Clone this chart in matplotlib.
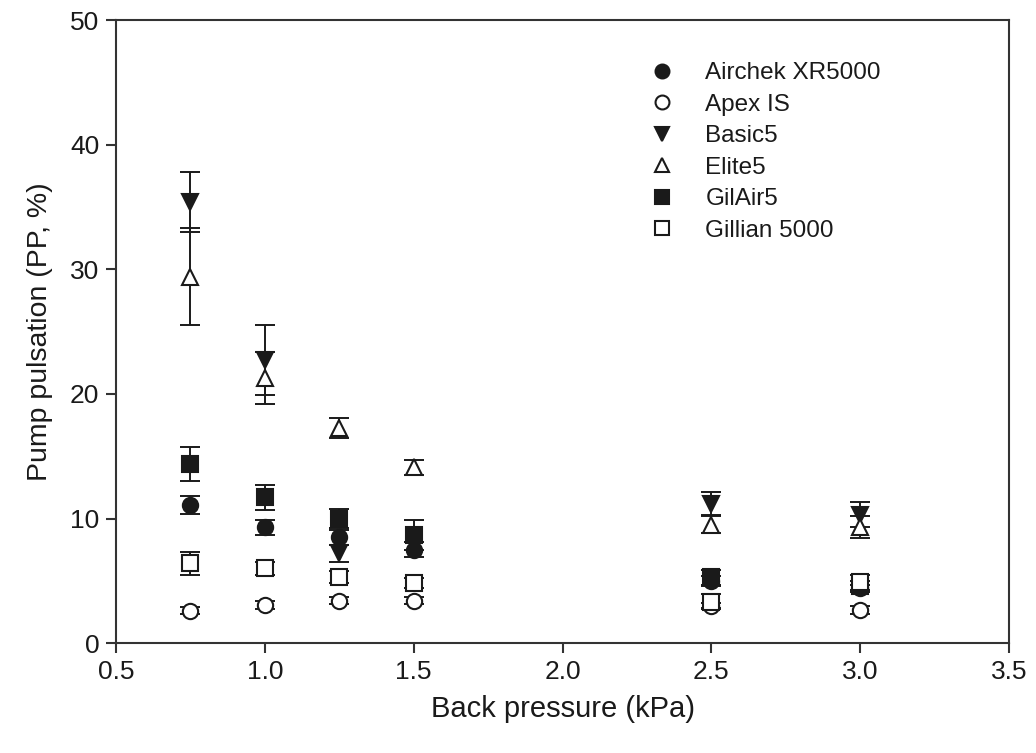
import matplotlib
matplotlib.use('Agg')
import matplotlib.pyplot as plt
from matplotlib.lines import Line2D

plt.rcParams['font.family'] = ['Liberation Sans', 'DejaVu Sans']

# Presion de retorno (kPa)
pressure = [0.75, 1.0, 1.25, 1.5, 2.5, 3.0]

# Pulsacion media (%) y desviacion de cada bomba
airchek = [11.1, 9.3, 8.5, 7.5, 5.0, 4.4]
airchek_err = [0.7, 0.6, 0.6, 0.6, 0.4, 0.3]
apex = [2.6, 3.05, 3.4, 3.4, 3.0, 2.65]
apex_err = [0.3, 0.3, 0.3, 0.3, 0.2, 0.3]
basic5 = [35.4, 22.7, 7.2, None, 11.2, 10.3]
basic5_err = [2.4, 2.8, 0.7, None, 0.9, 1.0]
elite5 = [29.4, 21.3, 17.3, 14.1, 9.5, 9.3]
elite5_err = [3.9, 2.1, 0.8, 0.6, 0.7, 0.9]
gilair5 = [14.4, 11.7, 10.0, 8.7, 5.3, 4.6]
gilair5_err = [1.35, 1.0, 0.8, 1.2, 0.6, 0.4]
gillian = [6.4, 6.0, 5.3, 4.8, 3.3, 4.9]
gillian_err = [0.9, 0.5, 0.5, 0.4, 0.6, 0.6]

labels = ['Airchek XR5000', 'Apex IS', 'Basic5', 'Elite5', 'GilAir5', 'Gillian 5000']
markers = ['o', 'o', 'v', '^', 's', 's']
filled = [True, False, True, False, True, False]

series = [
    (airchek, airchek_err),
    (apex, apex_err),
    (basic5, basic5_err),
    (elite5, elite5_err),
    (gilair5, gilair5_err),
    (gillian, gillian_err),
]

ink = '#1a1a1a'

fig = plt.figure(figsize=(10.36, 7.53), dpi=100)
ax = fig.add_axes([0.112, 0.146, 0.862, 0.827])

handles = []
for (vals, errs), lab, mk, fill in zip(series, labels, markers, filled):
    xs = [p for p, v in zip(pressure, vals) if v is not None]
    ys = [v for v in vals if v is not None]
    es = [e for e in errs if e is not None]
    face = ink if fill else 'white'
    ax.errorbar(xs, ys, yerr=es, fmt='none', ecolor=ink, elinewidth=1.4,
                capsize=7, capthick=1.4, zorder=2)
    ax.plot(xs, ys, linestyle='none', marker=mk, markersize=11,
            markerfacecolor=face, markeredgecolor=ink, markeredgewidth=1.5, zorder=3)
    handles.append(Line2D([], [], linestyle='none', marker=mk, markersize=10,
                          markerfacecolor=face, markeredgecolor=ink,
                          markeredgewidth=1.5, label=lab))

ax.set_xlim(0.5, 3.5)
ax.set_ylim(0, 50)
ax.set_xticks([0.5, 1.0, 1.5, 2.0, 2.5, 3.0, 3.5])
ax.set_yticks([0, 10, 20, 30, 40, 50])
ax.xaxis.set_major_formatter(matplotlib.ticker.FormatStrFormatter('%.1f'))

for s in ax.spines.values():
    s.set_color('#333333')
    s.set_linewidth(1.5)
ax.tick_params(direction='out', length=7, width=1.5, color='#333333',
               labelsize=19, labelcolor=ink, pad=5)

ax.set_xlabel('Back pressure (kPa)', fontsize=21, color=ink, labelpad=8)
ax.set_ylabel('Pump pulsation (PP, %)', fontsize=20.5, color=ink, labelpad=12)

ax.legend(handles=handles, loc='upper left', bbox_to_anchor=(0.57, 0.968),
          frameon=False, fontsize=17.5, handlelength=1.2, handletextpad=1.2,
          labelspacing=0.39, labelcolor=ink)

fig.savefig('out.png', dpi=100)
